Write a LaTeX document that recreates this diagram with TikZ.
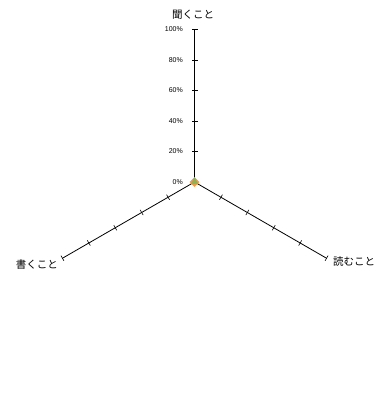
\documentclass[tikz,border=0pt]{standalone}
\usepackage{fontspec}
\setmainfont{Liberation Sans}
\newfontfamily\jpfont{Noto Sans CJK JP}
\usetikzlibrary{shapes.geometric}
\definecolor{mkorange}{HTML}{F79646}
\definecolor{mkgreen}{HTML}{8DB255}
\tikzset{
  axisline/.style={draw=black, line width=0.8pt},
  tickline/.style={draw=black, line width=0.6pt},
  pct/.style={anchor=east, font=\fontsize{7}{8}\selectfont, inner sep=0pt},
  cat/.style={font=\jpfont\fontsize{10.5}{12}\selectfont, inner sep=0pt},
}

\begin{document}
\begin{tikzpicture}[x=1pt,y=1pt]
    \path[use as bounding box] (0,0) rectangle (383,398);

    \coordinate (O) at (194.5,216);
    \path (O) ++(90:152.5) coordinate (listen);
    \path (O) ++(210:152.5) coordinate (write);
    \path (O) ++(330:152.5) coordinate (read);

    \draw[axisline, line width=1.6pt] (O) -- (listen);
    \draw[axisline] (O) -- (write);
    \draw[axisline] (O) -- (read);

    % ticks every 20%
    \foreach \a in {90,210,330}
      \foreach \k in {1,...,5}
        \draw[tickline, shift={(O)}, rotate=\a] (\k*30.5,-3) -- (\k*30.5,3);

    \foreach \k/\v in {0/0,1/20,2/40,3/60,4/80,5/100}
      \node[pct] (p\v) at (183, 216+\k*30.5) {\v\%};

    \node[cat] (tlisten) at (193,383) {聞くこと};
    \node[cat, anchor=east] (twrite) at (58,133) {書くこと};
    \node[cat, anchor=west] (tread) at (333,136) {読むこと};

    \node[diamond, fill=mkorange, minimum size=10pt, inner sep=0pt] (mk1) at (O) {};
    \node[regular polygon, regular polygon sides=3, fill=mkgreen, minimum size=9pt, inner sep=0pt] (mk2) at (O) {};
\end{tikzpicture}
\end{document}
